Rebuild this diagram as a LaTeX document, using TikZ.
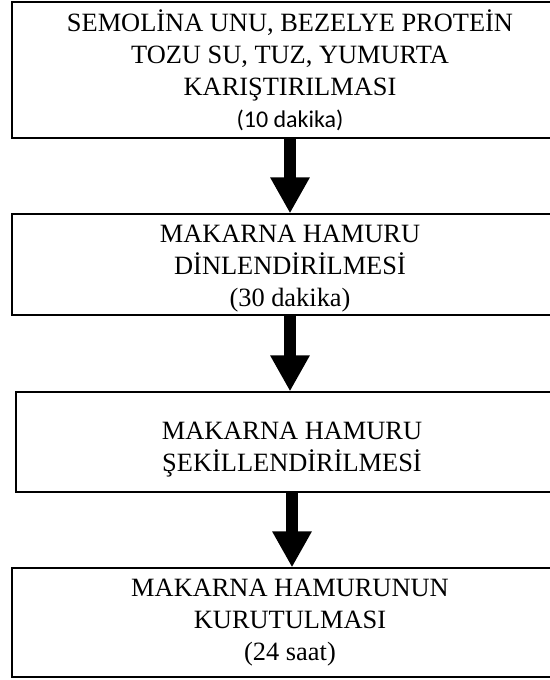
\documentclass[tikz,border=0pt]{standalone}
\usepackage{fontspec}
\setmainfont{Liberation Serif}
\newfontfamily\sansfont{Carlito}
\usetikzlibrary{arrows.meta,positioning}

\tikzset{
  stepbox/.style={draw, line width=0.6pt, minimum width=278pt, inner sep=0pt,
    align=center, font=\fontsize{13.2}{16}\selectfont},
  flowarrow/.style={line width=6pt, -{Triangle[width=18.5pt,length=18pt]}}
}

\begin{document}
\begin{tikzpicture}[x=0.5pt,y=-0.5pt]
\useasboundingbox (0,0) rectangle (550,680);
\clip (0,0) rectangle (550,680);
% process steps
\node[stepbox, minimum height=68pt] (mix) at (290,70)
  {SEMOLİNA UNU, BEZELYE PROTEİN\\TOZU SU, TUZ, YUMURTA\\KARIŞTIRILMASI\\{\sansfont\fontsize{12}{16}\selectfont (10 dakika)}};
\node[stepbox, minimum height=50.5pt] (rest) at (290,264.5)
  {\rule{0pt}{13pt}MAKARNA HAMURU\\DİNLENDİRİLMESİ\\(30 dakika)};
\node[stepbox, minimum height=50pt, minimum width=276pt] (shape) at (292,442)
  {\rule{0pt}{16pt}MAKARNA HAMURU\\ŞEKİLLENDİRİLMESİ};
\node[stepbox, minimum height=54.5pt] (dry) at (290,622.5)
  {MAKARNA HAMURUNUN\\KURUTULMASI\\(24 saat)};
% arrows
\foreach \a/\b in {mix/rest,rest/shape,shape/dry}
  \draw[flowarrow] (\a.south) -- (\a.south |- \b.north);
\end{tikzpicture}
\end{document}
